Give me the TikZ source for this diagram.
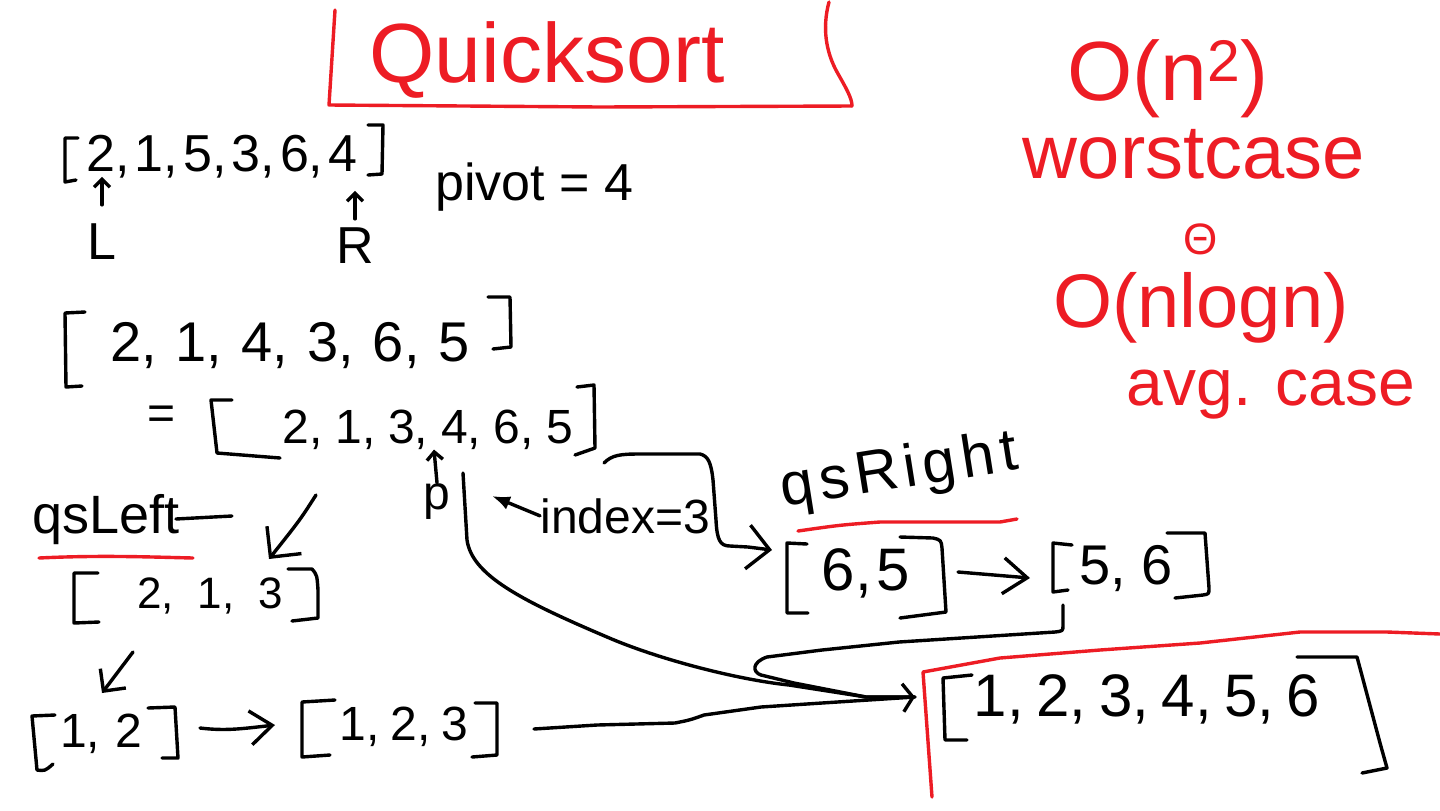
\documentclass[tikz,border=0pt]{standalone}
\usepackage{fontspec}
\setmainfont{Liberation Sans}
\usetikzlibrary{arrows.meta}
\definecolor{pred}{RGB}{237,28,36}
\newcommand\fs[1]{\fontsize{#1}{#1}\selectfont}
\newcommand\gp[1]{\hspace{#1pt}}
\begin{document}
\begin{tikzpicture}[x=0.5pt,y=-0.5pt,
  ink/.style={line width=1.7pt,line cap=round,line join=round,draw=black},
  rink/.style={line width=1.7pt,line cap=round,line join=round,draw=pred},
  lbl/.style={inner sep=0pt,anchor=base},
  ptr/.style={-{Straight Barb[length=4pt,width=8pt]}}]
\fill[white] (0,0) rectangle (1440,810);
\useasboundingbox (0,0) rectangle (1440,810);

% ---------- title ----------
\node[lbl,text=pred,font=\fs{42}] (title) at (547,82) {Quicksort};
\draw[rink] (335,10) -- (329,105) -- (600,107) -- (852,106);
\draw[rink] (829,2) .. controls (822,28) and (826,52) .. (837,72) .. controls (846,88) and (852,98) .. (852,106);

% ---------- first array ----------
\node[lbl,font=\fs{26}] (a1) at (222,171) {2,\gp{2.5}1,\gp{2.5}5,\gp{2.5}3,\gp{2.5}6,\gp{2.5}4};
\draw[ink] (78,138) -- (65,138) -- (65,182) -- (76,180);
\draw[ink] (368,125) -- (383,125) -- (382,174) -- (368,175);
\node[lbl,font=\fs{26}] (L) at (102,259) {L};
\node[lbl,font=\fs{26}] (R) at (355,263) {R};
\draw[ink,ptr] (L.north) ++(0,-18) -- ++(0,-28);
\draw[ink,ptr] (R.north) ++(0,-8) -- ++(0,-28);
\node[lbl,anchor=base west,font=\fs{26}] (piv) at (435,200) {pivot = 4};

% ---------- second array ----------
\node[lbl,font=\fs{28}] (a2) at (290,361) {2,\gp{9.5}1,\gp{9.5}4,\gp{9.5}3,\gp{9.5}6,\gp{9.5}5};
\draw[ink] (85,312) -- (65,313) -- (66,387) -- (82,386);
\draw[ink] (488,297) -- (510,297) -- (511,347) -- (493,349);

% ---------- third array ----------
\node[inner sep=0pt,font=\fs{24}] (eq) at (162,418) {=};
\node[lbl,font=\fs{24}] (a3) at (428,443) {2,\gp{6.4}1,\gp{6.4}3,\gp{6.4}4,\gp{6.4}6,\gp{6.4}5};
\draw[ink] (232,400) -- (211,400) -- (217,453) -- (280,458);
\draw[ink] (577,387) -- (594,385) -- (595,448) -- (575,455);
\node[lbl,font=\fs{24}] (p) at (437,509) {p};
\draw[ink,ptr] (p.north) -- ([xshift=3pt]a3.south);
\node[lbl,anchor=base west,font=\fs{24}] (idx) at (540,533) {index=3};
\coordinate (idxtip) at (492,496);
\draw[ink,-{Latex[length=9pt,width=7pt]}] (idx.west) -- (idxtip);

% ---------- qsLeft branch ----------
\node[lbl,font=\fs{27}] (qsl) at (106,533) {qsLeft};
\draw[ink] ([xshift=-2pt,yshift=7pt]qsl.base east) -- ++(56,-3);
\draw[rink] (39,558) .. controls (100,555) and (150,557) .. (193,558);
\coordinate (c3s) at (316,495);
\coordinate (c3e) at (269,559);
\draw[ink,-{Straight Barb[length=11pt,width=22pt]}] (c3s) .. controls (300,520) .. (c3e);

\node[lbl,font=\fs{22}] (a4) at (210,608) {2,\gp{12}1,\gp{12}3};
\draw[ink] (98,573) -- (74,573) -- (74,623) -- (99,622);
\draw[ink] (288,569) -- (312,569) .. controls (317,575) .. (318,590) -- (318,618) -- (292,621);
\coordinate (c4s) at (133,652);
\coordinate (c4e) at (102,693);
\draw[ink,-{Straight Barb[length=8pt,width=16pt]}] (c4s) -- (c4e);

\node[lbl,font=\fs{24}] (a5) at (101,747) {1,\gp{7.5}2};
\draw[ink] (55,715) -- (32,716) -- (37,770) .. controls (45,771) .. (53,764);
\draw[ink] (148,708) -- (175,707) -- (178,758) -- (162,758);
\coordinate (c2s) at (200,728);
\coordinate (c2e) at (275,725);
\draw[ink,-{Straight Barb[length=11pt,width=17pt]}] (c2s) .. controls (225,731) and (240,729) .. (c2e);

\node[lbl,font=\fs{24}] (a6) at (404,740) {1,\gp{5.5}2,\gp{5.5}3};
\draw[ink] (335,700) -- (302,702) -- (302,757) -- (330,755);
\draw[ink] (475,703) -- (497,703) -- (497,755) -- (472,757);

% ---------- qsRight branch ----------
\coordinate (c5s) at (604,463);
\coordinate (c5e) at (772,550);
\draw[ink,-{Straight Barb[length=11pt,width=22pt]}] (c5s) .. controls (612,455) and (620,454) .. (640,454) -- (700,454)
  .. controls (708,456) and (711,462) .. (713,480) -- (716,520) .. controls (717,540) and (720,546) .. (730,546) -- (748,547) -- (c5e);
\node[lbl,font={\fs{30}\addfontfeatures{LetterSpace=10}},rotate=9] (qsr) at (902,488) {qsRight};
\draw[rink] (798,531) .. controls (840,525) .. (880,522) -- (1000,522) -- (1017,519);

\node[lbl,font=\fs{30}] (a7) at (866,590) {6,\gp{2.5}5};
\draw[ink] (807,544) -- (787,543) -- (787,613) -- (808,613);
\draw[ink] (900,537) -- (933,538) .. controls (941,540) .. (942,548) -- (946,612) -- (900,618);
\coordinate (c1s) at (958,572);
\coordinate (c1e) at (1030,578);
\draw[ink,-{Straight Barb[length=12pt,width=18pt]}] (c1s) -- (c1e);

\node[lbl,font=\fs{28}] (a8) at (1126,584) {5,\gp{7.5}6};
\draw[ink] (1072,545) -- (1053,543) -- (1053,592) -- (1068,590);
\draw[ink] (1167,533) -- (1205,533) -- (1209,588) .. controls (1209,594) .. (1203,595) -- (1175,598);

% ---------- result ----------
\draw[rink] (932,797) -- (923,672) -- (1000,658) -- (1100,650) -- (1200,643) -- (1300,632) -- (1387,632) -- (1440,634);
\node[lbl,font=\fs{30}] (a9) at (1147,716) {1,\gp{6.3}2,\gp{6.3}3,\gp{6.3}4,\gp{6.3}5,\gp{6.3}6};
\draw[ink] (972,675) -- (943,678) -- (945,740) -- (967,740);
\draw[ink] (1297,657) -- (1357,657) -- (1380,743) -- (1387,768) -- (1362,773);

\coordinate (join) at (915,697);
\coordinate (c7s) at (534,729);
\coordinate (pv0) at (463,473);
\coordinate (c6s) at (1063,605);
\draw[ink,-{Straight Barb[length=5pt,width=14pt]}] (c7s) -- (597,725) -- (675,723) .. controls (690,720) .. (704,715) -- (761,707) -- (822,703) -- (join);
\draw[ink] (pv0) -- (467,540) .. controls (472,575) and (520,600) .. (607,637) .. controls (660,660) and (740,680) .. (789,685) -- (866,697) -- (join);
\draw[ink] (c6s) -- (1063,625) .. controls (1063,631) .. (1055,632) -- (899,642) -- (822,650) -- (767,657)
  .. controls (752,662) and (752,672) .. (761,675) -- (794,683) -- (866,697) -- (join);

% ---------- complexity notes ----------
\node[lbl,text=pred,font=\fs{42}] (wc) at (1168,100) {O(n\textsuperscript{2})};
\node[lbl,text=pred,font=\fs{38}] (wct) at (1194,178) {worstcase};
\node[inner sep=0pt,text=pred,font=\fs{22}] (theta) at (1201,239) {Θ};
\node[lbl,text=pred,font=\fs{38}] (avg) at (1201,327) {O(nlogn)};
\node[lbl,text=pred,font=\fs{33}] (avgt) at (1271,405) {avg. case};
\end{tikzpicture}
\end{document}
